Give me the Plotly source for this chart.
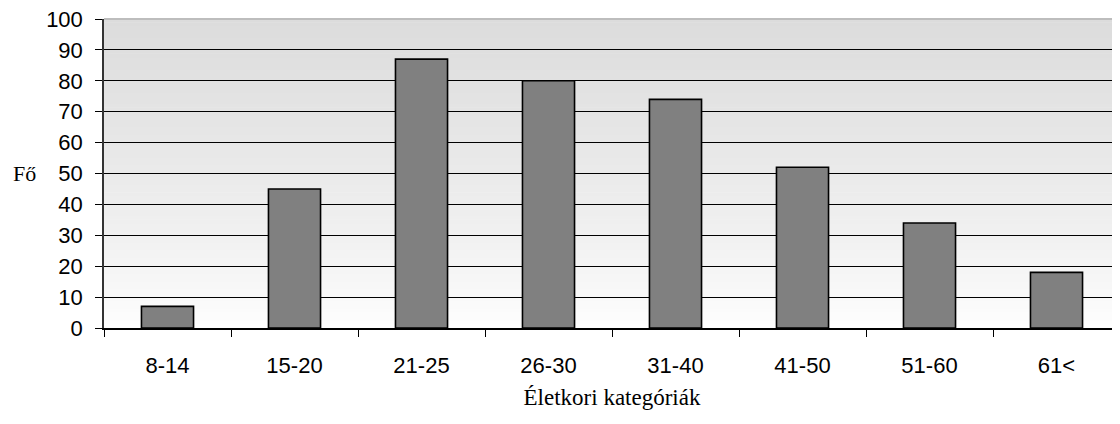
import plotly.graph_objects as go

categories = ["8-14", "15-20", "21-25", "26-30", "31-40", "41-50", "51-60", "61<"]
values = [7, 45, 87, 80, 74, 52, 34, 18]
y_ticks = list(range(0, 101, 10))

fig = go.Figure()
fig.add_trace(go.Bar(
    x=categories, y=values,
    marker=dict(color="#808080", line=dict(color="#000000", width=1.6)),
    hoverinfo="x+y",
))

# gradient plot background (bands)
shapes = []
n = 80
for i in range(n):
    f0 = i / n
    f1 = (i + 1) / n
    fm = (f0 + f1) / 2
    c = int(round(255 - 35 * (fm ** 0.75)))
    shapes.append(dict(type="rect", xref="x domain", yref="y domain",
                       x0=0, x1=1, y0=f0, y1=f1 + 0.002,
                       fillcolor=f"rgb({c},{c},{c})", line=dict(width=0),
                       layer="below"))
shapes.append(dict(type="line", xref="x domain", yref="y domain",
                   x0=0, x1=1, y0=1, y1=1,
                   line=dict(color="#bdbdbd", width=2), layer="above"))

fig.update_layout(
    width=1112, height=416,
    margin=dict(l=96, r=0, t=11, b=96),
    paper_bgcolor="white",
    plot_bgcolor="white",
    bargap=0.59,
    showlegend=False,
    shapes=shapes,
    font=dict(family="Liberation Sans, Arial, sans-serif", size=22, color="#000000"),
    xaxis=dict(
        tickson="boundaries", ticks="outside", ticklen=7, tickcolor="#000000", tickwidth=1,
        showline=True, linecolor="#000000", linewidth=1.5,
        showgrid=False, ticklabelstandoff=17,
        tickfont=dict(size=22),
        title=dict(text="Életkori kategóriák",
                   font=dict(family="Liberation Serif, Times New Roman, serif", size=23),
                   standoff=12),
    ),
    yaxis=dict(
        range=[0, 100], tickvals=y_ticks, ticks="outside", ticklen=7,
        tickcolor="#000000", showline=True, linecolor="#333333", linewidth=1.5,
        showgrid=True, gridcolor="#000000", gridwidth=1,
        zeroline=False, ticklabelstandoff=8, tickfont=dict(size=22),
        ticklabeloverflow="allow",
    ),
    annotations=[dict(text="Fő", xref="paper", yref="y", x=-0.0787, y=50,
                      xanchor="center", yanchor="middle", showarrow=False,
                      font=dict(family="Liberation Serif, Times New Roman, serif", size=22))],
)

fig.write_html("out.html")
